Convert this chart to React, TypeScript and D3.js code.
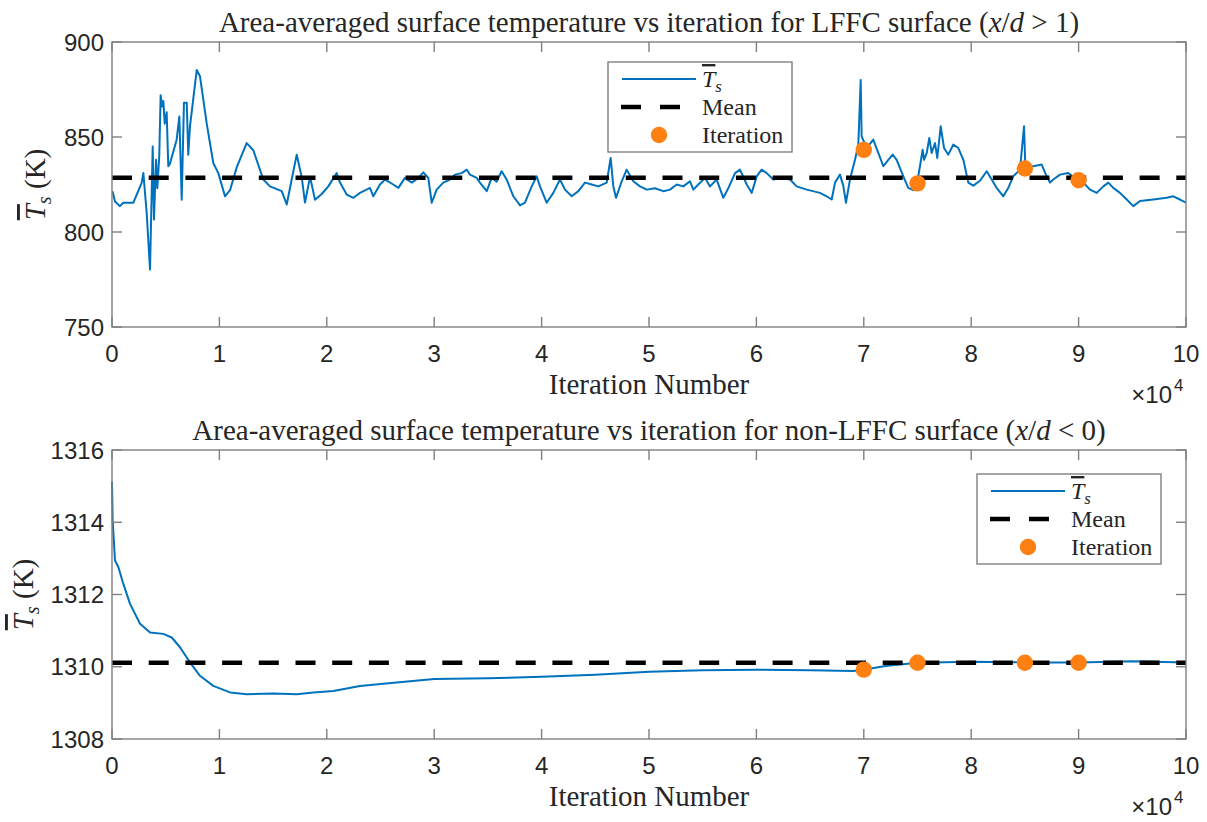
import React from 'react';
import * as d3 from 'd3';

// ---------- data ----------
const xTicks = [0, 1, 2, 3, 4, 5, 6, 7, 8, 9, 10];
const topYTicks = [750, 800, 850, 900];
const botYTicks = [1308, 1310, 1312, 1314, 1316];

// iteration in units of 10^4
const topIter = [
  0.005, 0.028, 0.074, 0.105, 0.199, 0.276, 0.292, 0.323, 0.354, 0.379, 0.391, 0.41, 0.422, 0.44, 0.453,
  0.466, 0.478, 0.491, 0.509, 0.524, 0.54, 0.602, 0.627, 0.649, 0.67, 0.696, 0.71, 0.726, 0.789, 0.819,
  0.882, 0.943, 0.99, 1.052, 1.099, 1.161, 1.254, 1.316, 1.409, 1.471, 1.58, 1.627, 1.673, 1.72, 1.766,
  1.797, 1.844, 1.89, 1.953, 2.014, 2.092,
  2.123, 2.185, 2.247, 2.309, 2.402, 2.433, 2.495, 2.542, 2.619, 2.666, 2.728, 2.791, 2.852, 2.899, 2.945,
  2.977, 3.023, 3.085, 3.147, 3.194, 3.256, 3.303, 3.333, 3.396, 3.426, 3.489, 3.535, 3.582, 3.628, 3.675,
  3.737, 3.799, 3.845, 3.908, 3.954, 3.985, 4.047, 4.109, 4.171, 4.218, 4.28, 4.342, 4.404, 4.466, 4.528,
  4.606, 4.643, 4.668, 4.693, 4.746, 4.792, 4.854, 4.916, 4.979, 5.056, 5.133, 5.196, 5.258, 5.319, 5.382,
  5.413, 5.459, 5.521, 5.568, 5.63, 5.692, 5.738, 5.801, 5.847,
  5.91, 5.956, 6.003, 6.049, 6.096, 6.157, 6.236, 6.313, 6.375, 6.468, 6.592, 6.654, 6.701, 6.732, 6.778,
  6.809, 6.834, 6.871, 6.918, 6.949, 6.971, 6.98, 7.027, 7.088, 7.135, 7.182, 7.228, 7.269, 7.306, 7.368,
  7.414, 7.461, 7.493, 7.523, 7.548, 7.561, 7.586, 7.61, 7.632, 7.663, 7.684, 7.716, 7.747, 7.787, 7.833,
  7.88, 7.927, 7.973, 8.02, 8.082, 8.144, 8.191, 8.237, 8.299, 8.345, 8.392, 8.454, 8.492, 8.504, 8.578,
  8.656, 8.703, 8.734, 8.764, 8.827, 8.904, 8.967, 9.044, 9.106, 9.169, 9.23, 9.277, 9.323, 9.385, 9.448,
  9.509, 9.572, 9.696, 9.82, 9.882, 9.944, 10.0,
];
const topTemp = [
  821.5, 816, 813.6, 815.4, 815.4, 825.9, 831, 810, 780.3, 845, 806.6, 838, 823, 840, 872,
  866, 869, 857, 863, 834.6, 836, 848.6, 860.8, 817, 868, 868, 840.7, 855.6, 885.3, 882,
  857, 836.3, 831, 818.8, 822, 834, 846.8, 843, 827.6, 824, 821.5, 814.5, 827.6, 840.7, 829,
  815.5, 829, 817, 820, 824, 831,
  826, 819.7, 818, 820.6, 823.2, 818.8, 825, 827.6, 825, 823.2, 828.5, 826, 828.5, 831.4, 828.5,
  815.4, 822.3, 826, 827.6, 830.2, 831, 832.8, 830.2, 828.5, 826, 821.5, 828.5, 826.5, 832, 827.6,
  818.8, 814, 815.4, 824, 829.3, 824, 815.4, 820.6, 827.6, 822.3, 818.8, 821.5, 826, 825, 824,
  826, 839, 824, 818, 826.7, 832.8, 826.7, 824, 822.3, 823, 821.5, 822.3, 825, 824, 826.7,
  822.3, 825, 828.5, 824, 827.6, 818, 823, 831, 832.8,
  825, 820.6, 829.3, 832.8, 831, 827.6, 828.3, 827.6, 824, 822.3, 820.6, 818.8, 817.1, 826, 830.2,
  824.4, 815.4, 827.6, 838, 846, 880, 850.3, 844.2, 848.6, 841.6, 834.6, 838, 840.7, 838, 829.3,
  823.2, 822, 825, 834.6, 843.3, 838, 841.6, 849.5, 841.6, 846.8, 839, 855.6, 844.2, 840.7, 846,
  844.2, 838, 826, 824.4, 827, 832, 827.6, 823.2, 818.8, 823.2, 829.3, 832.8, 855.6, 834.6, 834.6,
  835.5, 829.3, 826, 827.6, 830.2, 831, 828.3, 826, 822.3, 820.6, 824, 826, 823.2, 820.6, 817.1,
  813.6, 816.3, 817.1, 818, 818.8, 817.1, 815.4,
];

const botIter = [
  0.0, 0.006, 0.028, 0.059, 0.105, 0.168, 0.261, 0.354, 0.478, 0.556, 0.633, 0.726, 0.819, 0.943, 1.099,
  1.254, 1.502, 1.72, 1.875, 2.061, 2.309, 2.6, 3.0, 3.5, 4.0, 4.5, 5.0, 5.5, 6.0, 6.5,
  6.9, 7.0, 7.2, 7.5, 8.0, 8.5, 9.0, 9.5, 10.0,
];
const botTemp = [
  1315.12, 1314.06, 1312.94, 1312.76, 1312.3, 1311.74, 1311.19, 1310.95, 1310.91, 1310.81, 1310.54, 1310.12,
  1309.75, 1309.47, 1309.29, 1309.24, 1309.26, 1309.24, 1309.29, 1309.33, 1309.47, 1309.55, 1309.66, 1309.68,
  1309.72, 1309.78, 1309.86, 1309.9, 1309.92, 1309.9, 1309.88, 1309.92, 1310.02, 1310.11, 1310.14, 1310.12,
  1310.12, 1310.15, 1310.12,
];

const markerIter = [7, 7.5, 8.5, 9];
const topMarkerTemp = [843.2, 825.6, 833.4, 827.2];
const botMarkerTemp = [1309.92, 1310.11, 1310.11, 1310.11];

const topMean = 828.5;
const botMean = 1310.11;

const legendLabels = ['Mean', 'Iteration'];

// ---------- style ----------
const SANS = '"Liberation Sans", Arial, Helvetica, sans-serif';
const SERIF = '"Liberation Serif", "Times New Roman", serif';
const BLUE = '#0072BD';
const ORANGE = '#FF8012';
const FRAME = '#808080';
const TXT = '#262626';
const X0 = 112;
const X1 = 1186;

type PanelProps = {
  top: number;
  bottom: number;
  yDomain: [number, number];
  yTicks: number[];
  iter: number[];
  temp: number[];
  mean: number;
  markerTemp: number[];
  title: React.ReactNode;
  legendX: number;
  legendY: number;
  yLabelX: number;
};

function TsLabel({ size }: { size: number }) {
  return (
    <>
      <tspan fontStyle="italic" style={{ textDecoration: 'overline' }}>T</tspan>
      <tspan fontStyle="italic" fontSize={size * 0.7} dy={size * 0.22}>s</tspan>
    </>
  );
}

function Panel(p: PanelProps) {
  const x = d3.scaleLinear().domain([0, 10]).range([X0, X1]);
  const y = d3.scaleLinear().domain(p.yDomain).range([p.bottom, p.top]);
  const pts: [number, number][] = p.iter.map((v, i) => [v, p.temp[i]]);
  const line = d3
    .line<[number, number]>()
    .x((d) => x(d[0]))
    .y((d) => y(d[1]));
  const tickLen = 10;
  const cx = (X0 + X1) / 2;
  const lx = p.legendX;
  const ly = p.legendY;
  return (
    <g>
      <text x={cx} y={p.top - 10} textAnchor="middle" fontFamily={SERIF} fontSize={29} fill={TXT}>
        {p.title}
      </text>
      {/* data line */}
      <path d={line(pts) || ''} fill="none" stroke={BLUE} strokeWidth={2} strokeLinejoin="round" />
      {/* mean */}
      <line x1={X0} x2={X1} y1={y(p.mean)} y2={y(p.mean)} stroke="#000" strokeWidth={4.5} strokeDasharray="20 16.7" />
      {/* markers */}
      {markerIter.map((m, i) => (
        <circle key={i} cx={x(m)} cy={y(p.markerTemp[i])} r={8.2} fill={ORANGE} />
      ))}
      {/* frame */}
      <rect x={X0} y={p.top} width={X1 - X0} height={p.bottom - p.top} fill="none" stroke={FRAME} strokeWidth={1.4} />
      {xTicks.map((t) => (
        <g key={'x' + t}>
          <line x1={x(t)} x2={x(t)} y1={p.bottom} y2={p.bottom - tickLen} stroke={FRAME} strokeWidth={1.4} />
          <line x1={x(t)} x2={x(t)} y1={p.top} y2={p.top + tickLen} stroke={FRAME} strokeWidth={1.4} />
          <text x={x(t)} y={p.bottom + 35} textAnchor="middle" fontFamily={SANS} fontSize={24} fill={TXT}>
            {t}
          </text>
        </g>
      ))}
      {p.yTicks.map((t) => (
        <g key={'y' + t}>
          <line x1={X0} x2={X0 + tickLen} y1={y(t)} y2={y(t)} stroke={FRAME} strokeWidth={1.4} />
          <line x1={X1} x2={X1 - tickLen} y1={y(t)} y2={y(t)} stroke={FRAME} strokeWidth={1.4} />
          <text x={X0 - 8} y={y(t) + 8.5} textAnchor="end" fontFamily={SANS} fontSize={24} fill={TXT}>
            {t}
          </text>
        </g>
      ))}
      {/* x label */}
      <text x={cx} y={p.bottom + 67} textAnchor="middle" fontFamily={SERIF} fontSize={29} fill={TXT}>
        Iteration Number
      </text>
      <text x={1172} y={p.bottom + 76} textAnchor="end" fontFamily={SANS} fontSize={24} fill={TXT}>
        ×10
      </text>
      <text x={1174} y={p.bottom + 64} fontFamily={SANS} fontSize={17} fill={TXT}>
        4
      </text>
      {/* y label */}
      <text
        transform={`translate(${p.yLabelX},${(p.top + p.bottom) / 2}) rotate(-90)`}
        textAnchor="middle"
        fontFamily={SERIF}
        fontSize={29}
        fill={TXT}
      >
        <TsLabel size={29} />
        <tspan dy={-29 * 0.22}> (K)</tspan>
      </text>
      {/* legend */}
      <rect x={lx} y={ly} width={184} height={90} fill="#fff" stroke={FRAME} strokeWidth={1.4} />
      <line x1={lx + 14} x2={lx + 88} y1={ly + 17} y2={ly + 17} stroke={BLUE} strokeWidth={2} />
      <text x={lx + 94} y={ly + 25} fontFamily={SERIF} fontSize={24} fill={TXT}>
        <TsLabel size={24} />
      </text>
      <line x1={lx + 13} x2={lx + 72} y1={ly + 45} y2={ly + 45} stroke="#000" strokeWidth={4.5} strokeDasharray="20 19" />
      <text x={lx + 94} y={ly + 53} fontFamily={SERIF} fontSize={24} fill={TXT}>
        {legendLabels[0]}
      </text>
      <circle cx={lx + 51} cy={ly + 73} r={8.2} fill={ORANGE} />
      <text x={lx + 94} y={ly + 81} fontFamily={SERIF} fontSize={24} fill={TXT}>
        {legendLabels[1]}
      </text>
    </g>
  );
}

export default function App() {
  return (
    <svg
      width={1207}
      height={822}
      style={{ position: 'absolute', left: 0, top: 0, background: '#fff' }}
    >
      <rect width={1207} height={822} fill="#fff" />
      <Panel
        top={42}
        bottom={327}
        yDomain={[750, 900]}
        yTicks={topYTicks}
        iter={topIter}
        temp={topTemp}
        mean={topMean}
        markerTemp={topMarkerTemp}
        title={
          <>
            Area-averaged surface temperature vs iteration for LFFC surface (<tspan fontStyle="italic">x</tspan>/
            <tspan fontStyle="italic">d</tspan> &gt; 1)
          </>
        }
        legendX={608}
        legendY={62}
        yLabelX={45}
      />
      <Panel
        top={450}
        bottom={739}
        yDomain={[1308, 1316]}
        yTicks={botYTicks}
        iter={botIter}
        temp={botTemp}
        mean={botMean}
        markerTemp={botMarkerTemp}
        title={
          <>
            Area-averaged surface temperature vs iteration for non-LFFC surface (<tspan fontStyle="italic">x</tspan>/
            <tspan fontStyle="italic">d</tspan> &lt; 0)
          </>
        }
        legendX={977}
        legendY={474}
        yLabelX={33}
      />
    </svg>
  );
}
